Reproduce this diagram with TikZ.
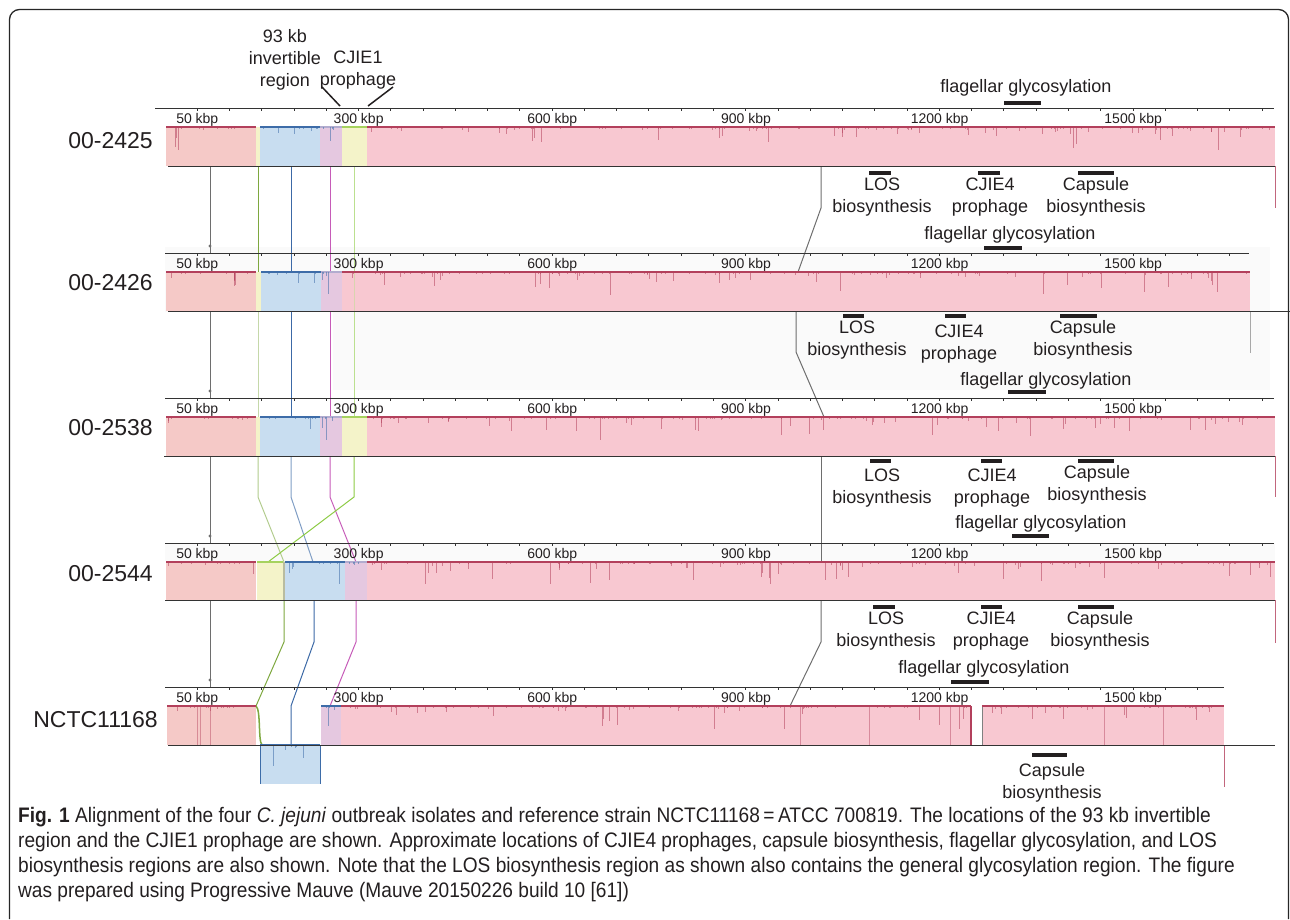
\documentclass[tikz,border=0pt]{standalone}
\usepackage{fontspec}
\setmainfont{Liberation Sans}
\newfontfamily\capfont[FakeStretch=0.91]{Liberation Sans}
\usetikzlibrary{positioning}

\definecolor{txt}{HTML}{231F20}
\definecolor{salmon}{HTML}{F5C9C7}
\definecolor{lcbpink}{HTML}{F8C8D1}
\definecolor{lcbblue}{HTML}{C8DDF0}
\definecolor{lcbmauve}{HTML}{E5C8E0}
\definecolor{lcbyellow}{HTML}{F4F3C9}
\definecolor{lcbolive}{HTML}{B9BCA0}
\definecolor{edgered}{HTML}{B3405C}
\definecolor{edgeblue}{HTML}{3D6CA8}
\definecolor{edgegreen}{HTML}{A6D25E}
\definecolor{lineolive}{HTML}{7EA83F}
\definecolor{linegreen}{HTML}{8DCB45}
\definecolor{lineblue}{HTML}{3C69A6}
\definecolor{linemag}{HTML}{C65BB8}
\definecolor{linegray}{HTML}{6E6E6E}

\begin{document}
\begin{tikzpicture}[x=1pt, y=-1pt,
    frame/.style={draw=black!85, line width=1.3pt, rounded corners=10pt},
    panel/.style={fill=black!2},
    ruler/.style={draw=black!80, line width=0.9pt},
    rtick/.style={draw=black!80, line width=0.6pt},
    topline/.style={line width=1.3pt},
    link/.style={line width=1pt},
    kbp/.style={font=\fontsize{14}{14}\selectfont, text=txt, inner sep=0pt},
    strain/.style={font=\fontsize{23}{23}\selectfont, text=txt, anchor=east, inner sep=0pt},
    feature/.style={font=\fontsize{18}{22}\selectfont, text=txt, align=center, inner sep=0pt},
    fbar/.style={draw=txt, line width=4.5pt},
    capline/.style={font=\capfont\fontsize{21}{21}\selectfont, text=txt, anchor=base west, inner sep=0pt}
]
\useasboundingbox (0,0) rectangle (1290,919);

\draw[frame] (9.5,919) -- (9.5,9.5) -- (1288.5,9.5) -- (1288.5,919);

% background of the selected sequence
\fill[panel] (165,247) rectangle (1270,312);
\fill[panel] (333,312) rectangle (1270,390);
\fill[panel] (165,543) rectangle (1275,561);

% lines joining the blocks
\draw[link, linegray] (210,166) -- (210,253) (210,311) -- (210,398)
    (210,456) -- (210,543) (210,600) -- (210,687);
\foreach \my in {246,391,536,680}
    \fill[linegray] (210,\my) circle (1.6);
\draw[link, lineolive] (258,166) -- (258,272);
\draw[link, lineolive!45] (258,311) -- (258,417);
\draw[link, lineolive!60] (258,456) -- (258,497) -- (284,562);
\draw[link, lineolive] (284,600) -- (284,642) -- (256,706);
\draw[link, lineblue] (291,166) -- (291,272) (291,311) -- (291,417);
\draw[link, lineblue!65] (291,456) -- (291,497) -- (313,562);
\draw[link, lineblue] (314,600) -- (314,642) -- (291,706) -- (291,745);
\draw[link, linemag] (330,166) -- (330,272) (330,311) -- (330,417);
\draw[link, linemag] (330,456) -- (330,497) -- (356,562);
\draw[link, linemag] (356,600) -- (356,642) -- (330,706);
\draw[link, linegreen!60] (354,166) -- (354,417);
\draw[link, linegreen] (354,456) -- (354,497) -- (268,562);
\draw[link, linegray] (821,166) -- (821,208) -- (798,272);
\draw[link, linegray] (796,311) -- (796,352) -- (824,417);
\draw[link, linegray] (821,456) -- (821,562);
\draw[link, linegray] (821,600) -- (821,642) -- (790,706);
% ends of the sequences
\draw[link, edgered!80] (1275,166) -- (1275,208) (1275,456) -- (1275,497)
    (1275,600) -- (1275,643) (1224,745) -- (1224,787);
\draw[link, linegray!60] (1250,311) -- (1250,353);

% blocks: 00-2425 and 00-2538
\foreach \ty/\by in {127/166, 417/456} {
    \fill[salmon] (166,\ty) rectangle (256,\by);
    \fill[lcbyellow] (256,\ty) rectangle (260,\by);
    \fill[lcbblue] (260,\ty) rectangle (320,\by);
    \fill[lcbmauve] (320,\ty) rectangle (342,\by);
    \fill[lcbyellow] (342,\ty) rectangle (367,\by);
    \fill[lcbpink] (367,\ty) rectangle (1275,\by);
}
% 00-2426
\fill[salmon] (166,272) rectangle (256,311);
\fill[lcbyellow] (256,272) rectangle (261,311);
\fill[lcbblue] (261,272) rectangle (321,311);
\fill[lcbmauve] (321,272) rectangle (342,311);
\fill[lcbpink] (342,272) rectangle (1250,311);
% 00-2544
\fill[salmon] (166,562) rectangle (256,600);
\fill[lcbyellow] (257,562) rectangle (283,600);
\fill[lcbolive] (283,562) rectangle (285,600);
\fill[lcbblue] (285,562) rectangle (345,600);
\fill[lcbmauve] (345,562) rectangle (367,600);
\fill[lcbpink] (367,562) rectangle (1275,600);
% NCTC11168
\fill[salmon] (167,706) rectangle (256,745);
\fill[lcbblue] (260,745) rectangle (320,784);
\fill[lcbmauve] (321,706) rectangle (341,745);
\fill[lcbpink] (341,706) rectangle (971,745);
\fill[lcbpink] (982,706) rectangle (1224,745);
\draw[lineolive, line width=1.5pt] (256,706) .. controls (261,710) and (258,741) .. (262,745);
\draw[edgeblue, line width=1pt] (260,745) -- (260,784) (320,745) -- (320,784);
\draw[edgered, line width=1.2pt] (971,706) -- (971,745);
\draw[black!50, line width=1pt] (982,706) -- (982,745);
\foreach \vx in {197,200,210,800,869,950,1104,1163}
    \draw[edgered, opacity=0.45, line width=0.6pt] (\vx,706) -- (\vx,745);
\draw[link, linegreen!60, opacity=0.5] (354,272) -- (354,311);

% similarity profiles
\foreach \ty/\xa/\xb/\col in {127/166/256/edgered, 127/260/320/edgeblue, 127/320/342/lcbmauve!70!edgeblue,
        127/342/367/edgegreen, 127/367/1275/edgered,
        272/166/256/edgered, 272/261/321/edgeblue, 272/321/342/lcbmauve!70!edgeblue, 272/342/1250/edgered,
        417/166/256/edgered, 417/260/320/edgeblue, 417/320/342/lcbmauve!70!edgeblue,
        417/342/367/edgegreen, 417/367/1275/edgered,
        562/166/256/edgered, 562/257/283/edgegreen, 562/285/345/edgeblue, 562/345/367/lcbmauve!70!edgeblue,
        562/367/1275/edgered,
        706/167/256/edgered, 706/321/341/edgeblue, 706/341/971/edgered, 706/982/1224/edgered,
        745/260/320/edgeblue}
    \draw[topline, \col] (\xa,\ty) -- (\xb,\ty);
\pgfmathsetseed{1290}
\foreach \ty/\xa/\xb/\n/\col in {127/168/255/10/edgered, 127/369/1273/120/edgered,
        127/262/318/8/edgeblue, 127/321/334/4/edgeblue,
        272/168/255/10/edgered, 272/343/1248/120/edgered, 272/263/319/8/edgeblue, 272/322/335/4/edgeblue,
        417/168/255/10/edgered, 417/369/1273/120/edgered, 417/262/318/8/edgeblue, 417/321/334/4/edgeblue,
        562/168/255/10/edgered, 562/369/1273/120/edgered, 562/287/343/8/edgeblue, 562/346/359/4/edgeblue,
        706/168/255/12/edgered, 706/343/969/85/edgered, 706/984/1222/35/edgered, 706/322/336/4/edgeblue,
        745/262/318/6/edgeblue} {
    \foreach \i in {1,...,\n} {
        \pgfmathsetmacro\sx{\xa+rnd*(\xb-\xa)}
        \pgfmathsetmacro\sd{1.5+22*pow(rnd,6)}
        \draw[\col, line width=0.8pt, opacity=0.55] (\sx,\ty) -- ++(0,\sd);
    }
}

% rulers
\foreach \rx/\ry/\rend/\nt [count=\t] in {155/108/1274/33, 165/253/1249/32, 165/398/1274/33,
        165/543/1274/33, 165/687/1224/31} {
    \draw[ruler] (\rx,\ry) -- (\rend,\ry);
    \foreach \k in {0,...,\nt}
        \draw[rtick] ({197+32.27*\k},\ry) -- ++(0,3);
    \foreach \kb in {50,300,600,900,1200,1500}
        \node[kbp] (kb\t-\kb) at ({165+0.6455*\kb},\ry+11.5) {\kb\ kbp};
}
\draw[ruler] (168,166) -- (1275,166);
\draw[ruler] (168,311) -- (1290,311);
\draw[ruler] (164,456) -- (1275,456);
\draw[ruler] (165,600) -- (1275,600);
\draw[ruler] (168,745) -- (1275,745);

% sequence names
\node[strain] (s2425) at (153,141) {00-2425};
\node[strain] (s2426) at (153,283) {00-2426};
\node[strain] (s2538) at (153,428) {00-2538};
\node[strain] (s2544) at (153,574) {00-2544};
\node[strain] (s11168) at (158,720) {NCTC11168};

% regions on top
\node[feature] (inv) at (285,60) {93 kb\\invertible\\region};
\node[feature] (cjie1) at (358,70) {CJIE1\\prophage};
\draw[txt, line width=1.5pt] (322,87) -- (340,106);
\draw[txt, line width=1.5pt] (393,87) -- (368,106);

% 00-2425
\node[feature] (flag1) at (1026,88) {flagellar glycosylation};
\draw[fbar] (1004,103) -- (1041,103);
\draw[fbar] (869,173) -- (891,173);
\draw[fbar] (978,173) -- (1000,173);
\draw[fbar] (1078,173) -- (1114,173);
\node[feature] (los1) at (882,197) {LOS\\biosynthesis};
\node[feature] (cj1) at (990,197) {CJIE4\\prophage};
\node[feature] (cap1) at (1096,197) {Capsule\\biosynthesis};
% 00-2426
\node[feature] (flag2) at (1010,235) {flagellar glycosylation};
\draw[fbar] (984,248) -- (1022,248);
\draw[fbar] (843,316) -- (864,316);
\draw[fbar] (945,316) -- (966,316);
\draw[fbar] (1060,316) -- (1097,316);
\node[feature] (los2) at (857,340) {LOS\\biosynthesis};
\node[feature] (cj2) at (959,344) {CJIE4\\prophage};
\node[feature] (cap2) at (1083,340) {Capsule\\biosynthesis};
% 00-2538
\node[feature] (flag3) at (1046,381) {flagellar glycosylation};
\draw[fbar] (1008,392) -- (1046,392);
\draw[fbar] (870,461) -- (891,461);
\draw[fbar] (981,461) -- (1002,461);
\draw[fbar] (1078,461) -- (1114,461);
\node[feature] (los3) at (882,488) {LOS\\biosynthesis};
\node[feature] (cj3) at (992,488) {CJIE4\\prophage};
\node[feature] (cap3) at (1097,485) {Capsule\\biosynthesis};
% 00-2544
\node[feature] (flag4) at (1041,524) {flagellar glycosylation};
\draw[fbar] (1012,536) -- (1049,536);
\draw[fbar] (873,607) -- (895,607);
\draw[fbar] (981,607) -- (1002,607);
\draw[fbar] (1078,607) -- (1114,607);
\node[feature] (los4) at (886,631) {LOS\\biosynthesis};
\node[feature] (cj4) at (991,631) {CJIE4\\prophage};
\node[feature] (cap4) at (1100,631) {Capsule\\biosynthesis};
% NCTC11168
\node[feature] (flag5) at (984,669) {flagellar glycosylation};
\draw[fbar] (951,682) -- (989,682);
\draw[fbar] (1032,755) -- (1067,755);
\node[feature] (cap5) at (1052,783) {Capsule\\biosynthesis};

% caption
\node[capline] (cap-a) at (18,822) {\textbf{Fig. 1} Alignment of the four \textit{C. jejuni} outbreak isolates and reference strain NCTC11168\,=\,ATCC 700819. The locations of the 93 kb invertible};
\node[capline] (cap-b) at (18,847) {region and the CJIE1 prophage are shown. Approximate locations of CJIE4 prophages, capsule biosynthesis, flagellar glycosylation, and LOS};
\node[capline] (cap-c) at (18,872) {biosynthesis regions are also shown. Note that the LOS biosynthesis region as shown also contains the general glycosylation region. The figure};
\node[capline] (cap-d) at (18,897) {was prepared using Progressive Mauve (Mauve 20150226 build 10 [61])};
\end{tikzpicture}
\end{document}
